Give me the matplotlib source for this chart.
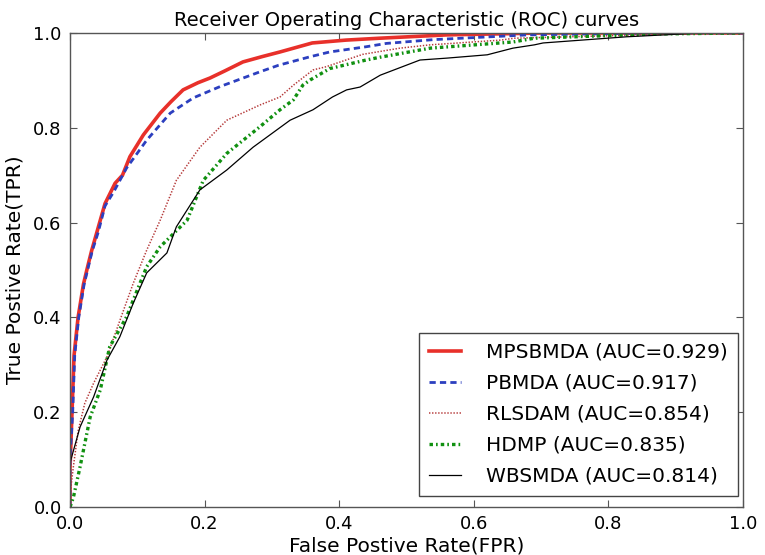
import matplotlib
matplotlib.use("Agg")
import matplotlib.pyplot as plt

# ROC curve points (FPR, TPR) for each method
mpsbmda_fpr = [0.0, 0.0, 0.003, 0.006, 0.012, 0.020, 0.025, 0.032, 0.040, 0.052, 0.067, 0.078,
               0.089, 0.109, 0.134, 0.150, 0.168, 0.190, 0.208, 0.230, 0.257, 0.285, 0.312,
               0.360, 0.410, 0.460, 0.560, 0.700, 1.0]
mpsbmda_tpr = [0.0, 0.08, 0.20, 0.32, 0.40, 0.47, 0.50, 0.54, 0.58, 0.64, 0.683, 0.700,
               0.739, 0.785, 0.831, 0.855, 0.880, 0.895, 0.905, 0.920, 0.939, 0.950, 0.960,
               0.979, 0.985, 0.989, 0.996, 1.0, 1.0]

pbmda_fpr = [0.0, 0.0, 0.004, 0.007, 0.013, 0.021, 0.033, 0.042, 0.052, 0.065, 0.084, 0.114,
             0.149, 0.183, 0.223, 0.282, 0.310, 0.357, 0.386, 0.440, 0.470, 0.540, 0.680,
             0.870, 1.0]
pbmda_tpr = [0.0, 0.10, 0.20, 0.32, 0.40, 0.47, 0.54, 0.58, 0.635, 0.665, 0.715, 0.774,
             0.831, 0.863, 0.887, 0.918, 0.932, 0.950, 0.960, 0.971, 0.978, 0.986, 0.996,
             1.0, 1.0]

rlsdam_fpr = [0.0, 0.002, 0.005, 0.012, 0.022, 0.035, 0.055, 0.078, 0.094, 0.104, 0.114,
              0.134, 0.158, 0.193, 0.233, 0.282, 0.312, 0.332, 0.361, 0.381, 0.435, 0.490,
              0.535, 0.640, 0.660, 0.850, 0.950, 1.0]
rlsdam_tpr = [0.0, 0.05, 0.085, 0.16, 0.219, 0.261, 0.317, 0.409, 0.472, 0.507, 0.542,
              0.605, 0.689, 0.759, 0.816, 0.848, 0.865, 0.890, 0.922, 0.929, 0.955, 0.968,
              0.975, 0.985, 0.989, 0.996, 1.0, 1.0]

hdmp_fpr = [0.0, 0.005, 0.015, 0.030, 0.045, 0.059, 0.084, 0.104, 0.114, 0.134, 0.174, 0.198,
            0.233, 0.282, 0.312, 0.332, 0.346, 0.357, 0.386, 0.440, 0.461, 0.535, 0.658,
            0.690, 0.870, 1.0]
hdmp_tpr = [0.0, 0.02, 0.085, 0.19, 0.247, 0.338, 0.401, 0.472, 0.507, 0.549, 0.605, 0.689,
            0.746, 0.802, 0.838, 0.859, 0.890, 0.901, 0.925, 0.943, 0.949, 0.968, 0.981,
            0.989, 0.998, 1.0]

wbsmda_fpr = [0.0, 0.0, 0.015, 0.035, 0.055, 0.074, 0.094, 0.114, 0.144, 0.158, 0.193, 0.233,
              0.272, 0.327, 0.361, 0.390, 0.411, 0.431, 0.461, 0.520, 0.560, 0.620, 0.658,
              0.690, 0.703, 0.827, 0.910, 0.930, 1.0]
wbsmda_tpr = [0.0, 0.093, 0.169, 0.232, 0.310, 0.359, 0.430, 0.494, 0.536, 0.591, 0.669, 0.711,
              0.759, 0.816, 0.838, 0.865, 0.880, 0.886, 0.911, 0.943, 0.947, 0.954, 0.968,
              0.975, 0.979, 0.992, 0.998, 1.0, 1.0]

labels = ["MPSBMDA (AUC=0.929)", "PBMDA (AUC=0.917)", "RLSDAM (AUC=0.854)",
          "HDMP (AUC=0.835)", "WBSMDA (AUC=0.814)"]
ticks = [0.0, 0.2, 0.4, 0.6, 0.8, 1.0]
tick_labels = ["0.0", "0.2", "0.4", "0.6", "0.8", "1.0"]

plt.rcParams["font.family"] = ["DejaVu Sans"]
plt.rcParams["lines.scale_dashes"] = False

fig = plt.figure(figsize=(7.65, 5.55), dpi=100)
ax = fig.add_axes([70 / 765, 1 - 507 / 555, 673 / 765, 474 / 555])

ax.plot(mpsbmda_fpr, mpsbmda_tpr, color="#e8302a", lw=2.6, ls="-", label=labels[0])
ax.plot(pbmda_fpr, pbmda_tpr, color="#2c3fbf", lw=2.0, dashes=(4.5, 3), label=labels[1])
ax.plot(rlsdam_fpr, rlsdam_tpr, color="#b53a3a", lw=1.1, dashes=(1, 1.2), label=labels[2])
ax.plot(hdmp_fpr, hdmp_tpr, color="#109010", lw=2.4, dashes=(2.5, 2.2, 1.2, 2.2), label=labels[3])
ax.plot(wbsmda_fpr, wbsmda_tpr, color="black", lw=0.9, ls="-", label=labels[4])

ax.set_xlim(0, 1)
ax.set_ylim(0, 1)
ax.set_xticks(ticks)
ax.set_xticklabels(tick_labels)
ax.set_yticks(ticks)
ax.set_yticklabels(tick_labels)
ax.tick_params(direction="in", length=5, width=0.8, color="#555555",
               top=True, right=True, labelsize=13, pad=6)
for sp in ax.spines.values():
    sp.set_color("#555555")
    sp.set_linewidth(1.0)

ax.set_title("Receiver Operating Characteristic (ROC) curves", fontsize=14, pad=5)
ax.set_xlabel("False Postive Rate(FPR)", fontsize=14.5, labelpad=2)
ax.set_ylabel("True Postive Rate(TPR)", fontsize=14.5, labelpad=6)

leg = ax.legend(loc="lower right", bbox_to_anchor=(1 - 5 / 673, 11 / 474),
                fontsize=14.5, fancybox=False, framealpha=1,
                edgecolor="#444444", handlelength=1.6, handletextpad=1.25,
                labelspacing=0.6, borderpad=0.5, borderaxespad=0.0)
leg.get_frame().set_linewidth(1.0)

fig.savefig("out.png", dpi=100)
